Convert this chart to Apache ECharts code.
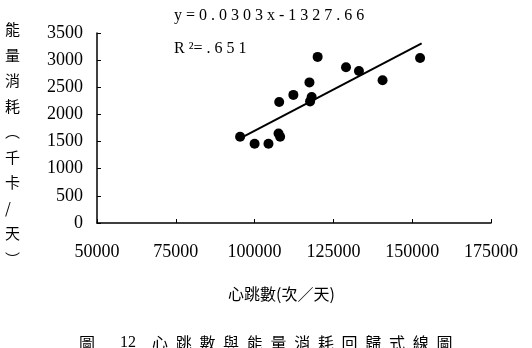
<!DOCTYPE html>
<html>
<head>
<meta charset="utf-8">
<script src="https://cdn.jsdelivr.net/npm/echarts@6/dist/echarts.min.js"></script>
<style>
  html, body { margin: 0; padding: 0; background: #fff; }
  #chart { width: 532px; height: 348px; }
</style>
</head>
<body>
<div id="chart"></div>
<script>
// 心跳數 (次/天)
const heartBeats = [95400, 100000, 104400, 107600, 108100, 107800, 112300, 120000, 117400, 118100, 117600, 129000, 133100, 140600, 152500]
// 能量消耗 (千卡/天)
const energy = [1590, 1460, 1460, 1650, 1590, 2230, 2360, 3060, 2590, 2320, 2240, 2870, 2800, 2630, 3040]
// 回歸線兩端
const fitX = [95400, 153000]
const fitY = [1560, 3310]

const xTicks = [50000, 75000, 100000, 125000, 150000, 175000]
const yTicks = [0, 500, 1000, 1500, 2000, 2500, 3000, 3500]

const equationText = 'y = 0 . 0 3 0 3 x - 1 3 2 7 . 6 6'
const r2Text = 'R ²= . 6 5 1'
const xName = '心跳數(次／天)'
const yNameChars = ['能', '量', '消', '耗', '︵', '千', '卡', '/', '天', '︶']
const captionTokens = ['圖', '12', '心', '跳', '數', '與', '能', '量', '消', '耗', '回', '歸', '式', '線', '圖']

const chart = echarts.init(document.getElementById('chart'))

const serif = '"Liberation Serif", "DejaVu Serif", serif'
const cjk = '"Noto Sans CJK TC", "Noto Sans CJK SC", sans-serif'

// 圖說：圖號與各字的中心位置
const captionX = captionTokens.map((t, i) => (i === 0 ? 87 : i === 1 ? 128 : 160 + (i - 2) * 23.7))

const option = {
  backgroundColor: '#fff',
  animation: false,
  grid: {
    left: 97,
    right: 41,
    top: 33,
    bottom: 125
  },
  xAxis: {
    type: 'value',
    min: xTicks[0],
    max: xTicks[xTicks.length - 1],
    interval: 25000,
    axisLine: { lineStyle: { color: '#000', width: 1.5 } },
    axisTick: { inside: true, length: 4, lineStyle: { color: '#000', width: 1 } },
    splitLine: { show: false },
    axisLabel: {
      margin: 20,
      color: '#000',
      fontFamily: serif,
      fontSize: 18,
      formatter: v => String(v)
    }
  },
  yAxis: {
    type: 'value',
    min: yTicks[0],
    max: yTicks[yTicks.length - 1],
    interval: 500,
    axisLine: { show: true, lineStyle: { color: '#000', width: 1.5 } },
    axisTick: { show: true, inside: true, length: 4, lineStyle: { color: '#000', width: 1 } },
    splitLine: { show: false },
    axisLabel: {
      margin: 14,
      color: '#000',
      fontFamily: serif,
      fontSize: 18,
      formatter: v => String(v)
    }
  },
  series: [
    {
      type: 'scatter',
      symbol: 'circle',
      symbolSize: 10,
      itemStyle: { color: '#000', opacity: 1 },
      data: heartBeats.map((x, i) => [x, energy[i]])
    },
    {
      type: 'line',
      symbol: 'none',
      lineStyle: { color: '#000', width: 2 },
      data: fitX.map((x, i) => [x, fitY[i]])
    }
  ],
  graphic: [
    {
      type: 'text',
      left: 174,
      top: 8,
      style: { text: equationText, font: '16px ' + serif, fill: '#000' }
    },
    {
      type: 'text',
      left: 174,
      top: 41,
      style: { text: r2Text, font: '16px ' + serif, fill: '#000' }
    },
    {
      type: 'text',
      left: 228,
      top: 286,
      style: { text: xName, font: '16px ' + cjk, fill: '#000' }
    },
    {
      type: 'text',
      left: 5,
      top: 17,
      style: {
        text: yNameChars.join('\n'),
        font: '15px ' + cjk,
        lineHeight: 25.5,
        fill: '#000',
        align: 'left'
      }
    },
    ...captionTokens.map((t, i) => ({
      type: 'text',
      x: captionX[i],
      y: 335,
      style: {
        text: t,
        font: '16px ' + (i === 1 ? serif : cjk),
        fill: '#000',
        align: 'center'
      }
    }))
  ]
}

chart.setOption(option)
</script>
</body>
</html>
